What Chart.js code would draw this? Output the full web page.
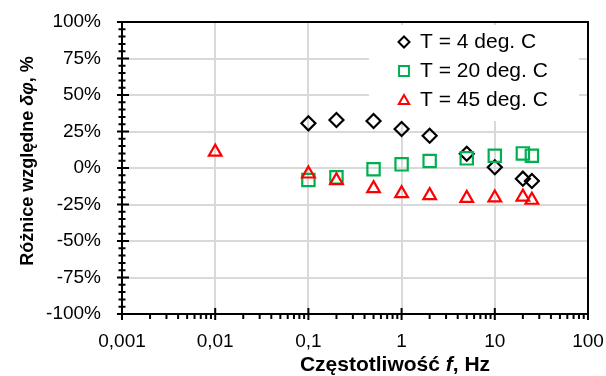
<!DOCTYPE html>
<html>
<head>
<meta charset="utf-8">
<script src="https://cdn.jsdelivr.net/npm/chart.js@4.4.1/dist/chart.umd.min.js"></script>
<style>
  html, body { margin: 0; padding: 0; background: #fff; }
  #c { display: block; }
</style>
</head>
<body>
<canvas id="c" width="606" height="376"></canvas>
<script>
// values
const freqs = [0.1, 0.2, 0.5, 1, 2, 5, 10, 20, 25];
const t4 = [30.6, 32.9, 32.2, 26.7, 22.1, 9.8, 0.5, -7.3, -8.9];
const t20 = [-8.2, -6.4, -0.9, 2.5, 4.8, 6.6, 8.4, 10.0, 8.4];
const freqs45 = [0.01, 0.1, 0.2, 0.5, 1, 2, 5, 10, 20, 25];
const t45 = [11.0, -4.0, -8.6, -14.0, -17.5, -18.8, -20.7, -20.4, -19.8, -22.0];
const xTicks = [0.001, 0.01, 0.1, 1, 10, 100];
const seriesNames = ['T = 4 deg. C', 'T = 20 deg. C', 'T = 45 deg. C'];

const FONT = '"Liberation Sans", Arial, sans-serif';
const GRID = '#d9d9d9';

const pts = (xs, ys) => xs.map((x, i) => ({ x: x, y: ys[i] }));

// legend, axis titles, frame and tick marks
const decor = {
  id: 'decor',
  beforeDatasetsDraw(chart) {
    const ctx = chart.ctx;
    ctx.save();
    ctx.fillStyle = '#fff';
    ctx.fillRect(369, 25, 210, 96);
    const rows = [42, 71, 100];
    chart.data.datasets.forEach((ds, i) => {
      ctx.strokeStyle = ds.borderColor;
      ctx.fillStyle = 'rgba(0,0,0,0)';
      ctx.lineWidth = 2;
      const r = ds.pointStyle === 'rect' ? 7 : (ds.pointStyle === 'triangle' ? 6 : 5.5);
      Chart.helpers.drawPoint(ctx, { pointStyle: ds.pointStyle, radius: r, borderWidth: 2 }, 404, rows[i] + (ds.pointStyle === 'triangle' ? 1 : 0));
      ctx.fillStyle = '#000';
      ctx.font = '21px ' + FONT;
      ctx.textBaseline = 'middle';
      ctx.textAlign = 'left';
      ctx.fillText(seriesNames[i], 420, rows[i]);
    });
    ctx.restore();
  },
  afterDraw(chart) {
    const ctx = chart.ctx;
    const a = chart.chartArea;
    const xs = chart.scales.x, ys = chart.scales.y;
    ctx.save();
    ctx.strokeStyle = '#000';
    ctx.lineWidth = 2;
    ctx.strokeRect(a.left, a.top, a.right - a.left, a.bottom - a.top);
    ctx.beginPath();
    // y ticks
    for (let v = -100; v <= 100; v += 5) {
      const y = ys.getPixelForValue(v);
      const major = v % 25 === 0;
      ctx.moveTo(a.left - (major ? 5 : 3.5), y);
      ctx.lineTo(a.left + (major ? 7 : 3.5), y);
    }
    // x ticks
    for (let e = -3; e <= 2; e++) {
      const base = Math.pow(10, e);
      const x = xs.getPixelForValue(base);
      ctx.moveTo(x, a.bottom - 6);
      ctx.lineTo(x, a.bottom + 6);
      if (e < 2) {
        for (let m = 2; m <= 9; m++) {
          const xm = xs.getPixelForValue(m * base);
          ctx.moveTo(xm, a.bottom);
          ctx.lineTo(xm, a.bottom + 5);
        }
      }
    }
    ctx.stroke();

    // axis titles with italic symbols
    const drawParts = (parts, cx, cy) => {
      let w = 0;
      parts.forEach(p => { ctx.font = p[1]; w += ctx.measureText(p[0]).width; });
      let x = cx - w / 2;
      parts.forEach(p => {
        ctx.font = p[1];
        ctx.fillText(p[0], x, cy);
        x += ctx.measureText(p[0]).width;
      });
    };
    ctx.fillStyle = '#000';
    ctx.textBaseline = 'alphabetic';
    ctx.textAlign = 'left';
    const b = 'bold 21px ' + FONT, bi = 'italic bold 21px ' + FONT;
    drawParts([['Częstotliwość ', b], ['f', bi], [', Hz', b]], 395, 371);
    ctx.translate(33, 161);
    ctx.rotate(-Math.PI / 2);
    const b2 = 'bold 18px ' + FONT, bi2 = 'italic bold 18px ' + FONT;
    drawParts([['Różnice względne ', b2], ['δφ', bi2], [', %', b2]], 0, 0);
    ctx.restore();
  }
};

new Chart(document.getElementById('c'), {
  type: 'scatter',
  data: {
    datasets: [
      { label: seriesNames[0], data: pts(freqs, t4), pointStyle: 'rectRot', pointRadius: 7,
        borderColor: '#000', backgroundColor: 'rgba(0,0,0,0)', pointBorderWidth: 2.2, order: 3 },
      { label: seriesNames[1], data: pts(freqs, t20), pointStyle: 'rect', pointRadius: 8.7,
        borderColor: '#00b050', backgroundColor: 'rgba(0,0,0,0)', pointBorderWidth: 2.2, order: 2 },
      { label: seriesNames[2], data: pts(freqs45, t45), pointStyle: 'triangle', pointRadius: 7.3,
        borderColor: '#ff0000', backgroundColor: 'rgba(0,0,0,0)', pointBorderWidth: 2.2, order: 1 }
    ]
  },
  options: {
    responsive: false,
    animation: false,
    devicePixelRatio: 1,
    layout: { padding: { left: 0, right: 18, top: 22, bottom: 0 } },
    plugins: { legend: { display: false }, tooltip: { enabled: false } },
    scales: {
      x: {
        type: 'logarithmic',
        min: 0.001,
        max: 100,
        afterBuildTicks: (s) => { s.ticks = xTicks.map(v => ({ value: v, major: true })); },
        afterFit: (s) => { s.height = 62; s.paddingLeft = 0; s.paddingRight = 0; },
        grid: { color: GRID, lineWidth: 2, drawTicks: false },
        border: { color: '#000', width: 2 },
        ticks: {
          autoSkip: false, maxRotation: 0, padding: 16, color: '#000',
          font: { family: FONT, size: 19 },
          callback: (v) => String(v).replace('.', ',')
        }
      },
      y: {
        min: -100,
        max: 100,
        afterFit: (s) => { s.width = 122; s.paddingTop = 0; s.paddingBottom = 0; },
        grid: { color: GRID, lineWidth: 2, drawTicks: false },
        border: { color: '#000', width: 2 },
        ticks: {
          stepSize: 25, padding: 21, color: '#000',
          font: { family: FONT, size: 19 },
          callback: (v) => v + '%'
        }
      }
    }
  },
  plugins: [decor]
});
</script>
</body>
</html>
